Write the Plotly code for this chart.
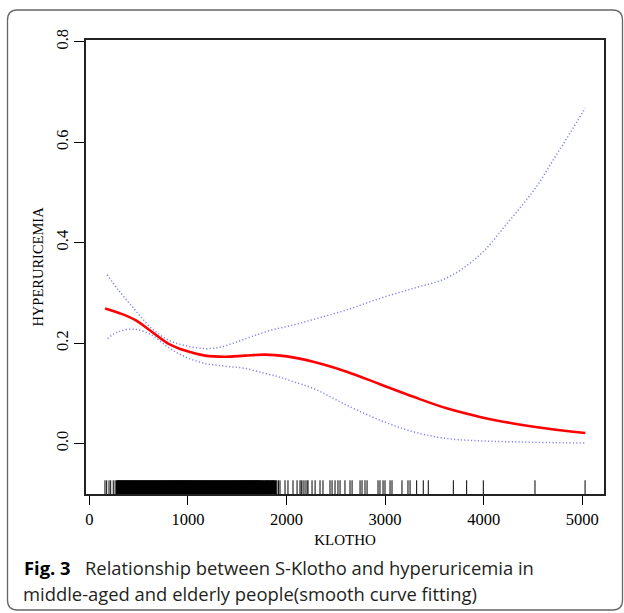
import plotly.graph_objects as go

# ---------------- data ----------------
fit_x = [160, 300, 464, 633, 801, 971, 1173, 1376, 1579, 1782, 1985, 2272, 2610,
         2948, 3287, 3625, 3962, 4300, 4639, 5030]
fit_y = [0.269, 0.260, 0.246, 0.2226, 0.199, 0.185, 0.175, 0.1727, 0.175, 0.177,
         0.174, 0.1628, 0.143, 0.118, 0.093, 0.070, 0.053, 0.040, 0.030, 0.021]

upper_x = [180, 294, 464, 633, 801, 971, 1173, 1308, 1478, 1647, 1850, 2069, 2272,
           2610, 2948, 3287, 3607, 3861, 4030, 4199, 4368, 4537, 4706, 4875, 5030]
upper_y = [0.336, 0.306, 0.266, 0.229, 0.206, 0.195, 0.189, 0.191, 0.201, 0.213,
           0.226, 0.236, 0.247, 0.266, 0.289, 0.309, 0.328, 0.359, 0.389, 0.429,
           0.469, 0.512, 0.565, 0.618, 0.668]

lower_x = [185, 294, 464, 633, 801, 971, 1173, 1376, 1579, 1782, 1934, 2069, 2272,
           2610, 2948, 3287, 3625, 3962, 4300, 4639, 5030]
lower_y = [0.209, 0.2226, 0.2273, 0.216, 0.1914, 0.1727, 0.1595, 0.154, 0.1495,
           0.1396, 0.132, 0.123, 0.1097, 0.0764, 0.0465, 0.0233, 0.010, 0.0053,
           0.0033, 0.002, 0.001]

rug_dense_x = [
    280, 290, 300, 310, 320, 330, 340, 350, 360, 370, 380, 390, 400, 410, 420,
    430, 440, 450, 460, 470, 480, 490, 500, 510, 520, 530, 540, 550, 560, 570,
    580, 590, 600, 610, 620, 630, 640, 650, 660, 670, 680, 690, 700, 710, 720,
    730, 740, 750, 760, 770, 780, 790, 800, 810, 820, 830, 840, 850, 860, 870,
    880, 890, 900, 910, 920, 930, 940, 950, 960, 970, 980, 990, 1000, 1010, 1020,
    1030, 1040, 1050, 1060, 1070, 1080, 1090, 1100, 1110, 1120, 1130, 1140, 1150, 1160, 1170,
    1180, 1190, 1200, 1210, 1220, 1230, 1240, 1250, 1260, 1270, 1280, 1290, 1300, 1310, 1320,
    1330, 1340, 1350, 1360, 1370, 1380, 1390, 1400, 1410, 1420, 1430, 1440, 1450, 1460, 1470,
    1480, 1490, 1500, 1510, 1520, 1530, 1540, 1550, 1560, 1570, 1580, 1590, 1600, 1610, 1620,
    1630, 1640, 1650, 1660, 1670, 1680, 1690, 1700, 1710, 1720, 1730,
    1742, 1755, 1766, 1778, 1790, 1802, 1814, 1826, 1838, 1850, 1862, 1874, 1888,
]
rug_sparse_x = [
    159, 176, 200, 217, 243, 262,
    1902, 1918, 1934,
    1985, 2015, 2066, 2107, 2137, 2150, 2168, 2188, 2208, 2218, 2259, 2290, 2340, 2370,
    2441, 2462, 2492, 2522, 2543, 2593, 2644, 2665, 2746, 2766, 2796, 2817, 2928, 2948,
    2979, 2999, 3050, 3070, 3171, 3232, 3253, 3320, 3387, 3438, 3692, 3827, 3996, 4520, 5028,
]

x_ticks = [0, 1000, 2000, 3000, 4000, 5000]
y_ticks = [0.0, 0.2, 0.4, 0.6, 0.8]
y_tick_text = ["0.0", "0.2", "0.4", "0.6", "0.8"]

x_range = [-33.5, 5220]
y_range = [-0.1005, 0.8034]
rug_top = -0.0732

caption_label = "Fig. 3"
caption_line1 = "Relationship between S-Klotho and hyperuricemia in"
caption_line2 = "middle-aged and elderly people(smooth curve fitting)"

# ---------------- figure ----------------
fig = go.Figure()


def rug_trace(values, width):
    rx, ry = [], []
    for v in values:
        rx += [v, v, None]
        ry += [y_range[0], rug_top, None]
    return go.Scatter(x=rx, y=ry, mode="lines", line=dict(color="black", width=width),
                      hoverinfo="skip", showlegend=False)


fig.add_trace(rug_trace(rug_dense_x, 2))
fig.add_trace(rug_trace(rug_sparse_x, 1))

ci_line = dict(color="rgba(100,100,240,0.8)", width=1.5, dash="1.2px,2.2px")
fig.add_trace(go.Scatter(x=upper_x, y=upper_y, mode="lines", line_shape="spline",
                         line=ci_line, showlegend=False))
fig.add_trace(go.Scatter(x=lower_x, y=lower_y, mode="lines", line_shape="spline",
                         line=ci_line, showlegend=False))
fig.add_trace(go.Scatter(x=fit_x, y=fit_y, mode="lines", line_shape="spline",
                         line=dict(color="#ff0000", width=2.6), showlegend=False))

W, H = 624, 613
ml, mr, mt, mb = 86, 20, 40, 119
pw, ph = W - ml - mr, H - mt - mb


def px_x(p):
    return (p - ml) / pw


def px_y(p):
    return (H - mb - p) / ph


axis_font = dict(family="Liberation Serif, Times New Roman, serif", size=16.5, color="black")

fig.update_xaxes(range=x_range, tickvals=x_ticks, ticks="outside", ticklen=9,
                 tickwidth=1.2, tickcolor="black", showline=True, mirror=True,
                 linecolor="#222", linewidth=1.6, showgrid=False, zeroline=False,
                 tickfont=axis_font,
                 title=dict(text="KLOTHO", font=dict(family="Liberation Serif, serif",
                                                     size=15, color="black"), standoff=7))
fig.update_yaxes(range=y_range, tickvals=y_ticks, ticktext=y_tick_text, tickangle=-90,
                 ticks="outside", ticklen=10, tickwidth=1.2, tickcolor="black",
                 showline=True, mirror=True, linecolor="#222", linewidth=1.6,
                 showgrid=False, zeroline=False, tickfont=axis_font,
                 title=dict(text="HYPERURICEMIA", font=dict(family="Liberation Serif, serif",
                                                            size=14.5, color="black"), standoff=6))

# outer rounded border
x0, x1 = px_x(7.5), px_x(622.5)
y0, y1 = px_y(610), px_y(10)
rx_ = 10 / pw
ry_ = 10 / ph
path = (f"M {x0 + rx_},{y1} L {x1 - rx_},{y1} Q {x1},{y1} {x1},{y1 - ry_} "
        f"L {x1},{y0 + ry_} Q {x1},{y0} {x1 - rx_},{y0} "
        f"L {x0 + rx_},{y0} Q {x0},{y0} {x0},{y0 + ry_} "
        f"L {x0},{y1 - ry_} Q {x0},{y1} {x0 + rx_},{y1} Z")
fig.add_shape(type="path", path=path, xref="paper", yref="paper",
              line=dict(color="#666", width=1.3), fillcolor="rgba(0,0,0,0)")

cap_font = dict(family="Open Sans, Noto Sans, sans-serif", size=18.4, color="#231f20")
fig.add_annotation(x=px_x(22), y=px_y(567), xref="paper", yref="paper",
                   text=f"<b>{caption_label}</b>", showarrow=False,
                   xanchor="left", yanchor="middle",
                   font=dict(family="Open Sans, Noto Sans, sans-serif", size=18.4, color="black"))
fig.add_annotation(x=px_x(83), y=px_y(567), xref="paper", yref="paper",
                   text=caption_line1, showarrow=False, xanchor="left", yanchor="middle",
                   font=cap_font)
fig.add_annotation(x=px_x(21), y=px_y(593), xref="paper", yref="paper",
                   text=caption_line2, showarrow=False, xanchor="left", yanchor="middle",
                   font=cap_font)

fig.update_layout(width=W, height=H, margin=dict(l=ml, r=mr, t=mt, b=mb),
                  plot_bgcolor="white", paper_bgcolor="white", showlegend=False)

fig.write_html("out.html", config={"displayModeBar": False},
               post_script="document.body.style.margin='0';document.body.style.overflow='hidden';")
